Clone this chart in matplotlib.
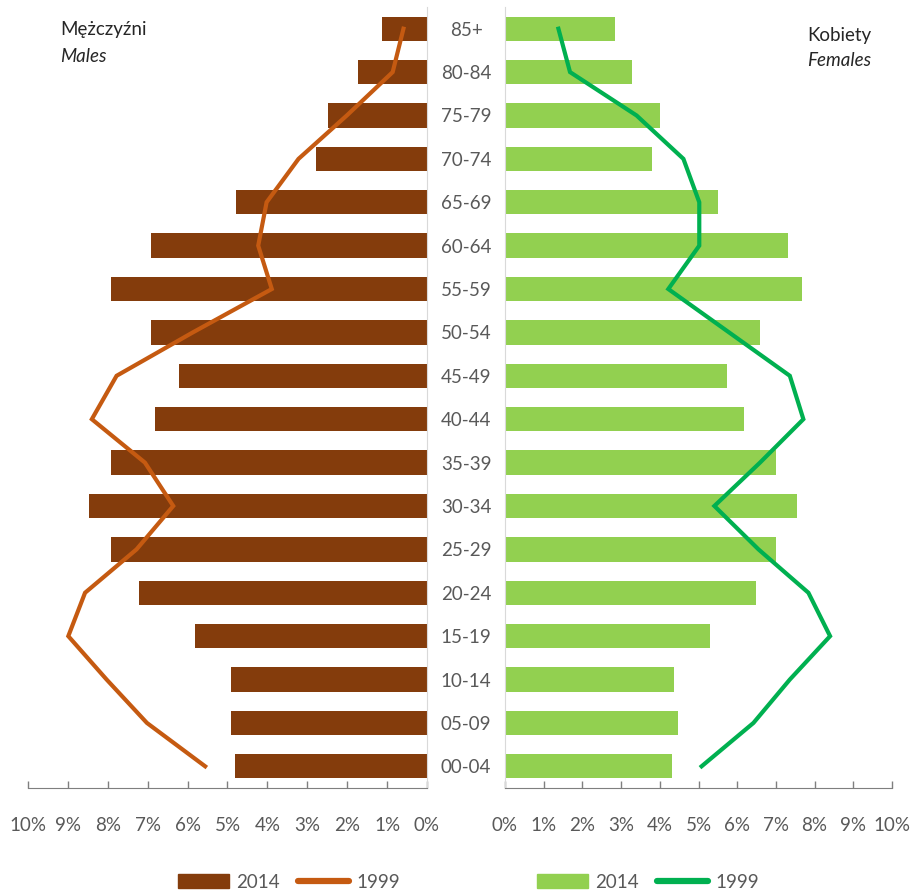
import numpy as np
import matplotlib
matplotlib.use("Agg")
import matplotlib.pyplot as plt
from matplotlib.patches import Patch
from matplotlib.lines import Line2D

plt.rcParams['font.family'] = ['Lato', 'DejaVu Sans']

# age groups, bottom to top
ages = ["00-04", "05-09", "10-14", "15-19", "20-24", "25-29", "30-34", "35-39", "40-44",
        "45-49", "50-54", "55-59", "60-64", "65-69", "70-74", "75-79", "80-84", "85+"]

# share of population (%)
males_2014 = [4.80, 4.90, 4.90, 5.81, 7.21, 7.91, 8.46, 7.91, 6.81,
              6.21, 6.91, 7.91, 6.91, 4.79, 2.79, 2.49, 1.74, 1.13]
males_1999 = [5.56, 7.02, 8.03, 8.99, 8.57, 7.28, 6.36, 7.07, 8.40,
              7.78, 5.87, 3.89, 4.23, 4.02, 3.22, 2.01, 0.86, 0.59]
females_2014 = [4.32, 4.48, 4.37, 5.31, 6.49, 7.01, 7.54, 7.01, 6.18,
                5.73, 6.60, 7.68, 7.32, 5.51, 3.81, 4.00, 3.29, 2.83]
females_1999 = [5.08, 6.42, 7.36, 8.40, 7.84, 6.55, 5.41, 6.59, 7.71,
                7.36, 5.79, 4.22, 5.02, 5.02, 4.61, 3.40, 1.68, 1.38]

ticks = list(range(0, 11))
tick_labels = [f"{t}%" for t in ticks]

male_bar = "#843C0C"
male_line = "#C55A11"
fem_bar = "#92D050"
fem_line = "#00B050"
txt = "#595959"
fs = 13.5

W, H = 914, 893
fig = plt.figure(figsize=(W / 100, H / 100), dpi=100)

y = np.arange(len(ages))
bottom_px, top_px = 788, 7
ax_m = fig.add_axes([28 / W, 1 - bottom_px / H, (427 - 28) / W, (bottom_px - top_px) / H])
ax_f = fig.add_axes([505 / W, 1 - bottom_px / H, (892 - 505) / W, (bottom_px - top_px) / H])

# males
ax_m.barh(y, males_2014, height=0.56, color=male_bar, zorder=2)
ax_m.plot(males_1999, y, color=male_line, lw=3, zorder=3, solid_joinstyle='miter')
ax_m.set_xlim(10, 0)

# females
ax_f.barh(y, females_2014, height=0.56, color=fem_bar, zorder=2)
ax_f.plot(females_1999, y, color=fem_line, lw=3, zorder=3, solid_joinstyle='miter')
ax_f.set_xlim(0, 10)

for ax in (ax_m, ax_f):
    ax.set_ylim(-0.5, len(ages) - 0.5)
    ax.set_xticks(ticks, tick_labels)
    ax.tick_params(axis='x', direction='in', length=5, width=1, color="#7F7F7F",
                   labelsize=fs, labelcolor=txt, pad=21)
    for s in ax.spines.values():
        s.set_visible(False)
    ax.spines['bottom'].set_visible(True)
    ax.spines['bottom'].set_color("#7F7F7F")

ax_m.spines['right'].set_visible(True)
ax_m.spines['right'].set_color("#D9D9D9")
ax_m.set_yticks([])

ax_f.spines['left'].set_visible(True)
ax_f.spines['left'].set_color("#D9D9D9")
ax_f.set_yticks(y, ages)
ax_f.tick_params(axis='y', length=0, pad=28, labelsize=fs, labelcolor=txt)
for lab in ax_f.get_yticklabels():
    lab.set_horizontalalignment('center')

# titles
fig.text(60 / W, 1 - 30 / H, "Mężczyźni", fontsize=fs, color="#262626", va='center')
fig.text(60 / W, 1 - 56 / H, "Males", fontsize=fs, style='italic', color="#262626", va='center')
fig.text(807 / W, 1 - 35 / H, "Kobiety", fontsize=fs, color="#262626", va='center')
fig.text(807 / W, 1 - 60 / H, "Females", fontsize=fs, style='italic', color="#262626", va='center')

# legends
h_m = [Patch(color=male_bar), Line2D([], [], color=male_line, lw=4.5, solid_capstyle='round')]
h_f = [Patch(color=fem_bar), Line2D([], [], color=fem_line, lw=4.5, solid_capstyle='round')]
for handles, xc in ((h_m, 289), (h_f, 648)):
    fig.legend(handles, ["2014", "1999"], loc='center', bbox_to_anchor=(xc / W, 1 - 882 / H),
               ncol=2, frameon=False, fontsize=fs, handlelength=2.7, handleheight=0.8,
               columnspacing=1.0, handletextpad=0.4, labelcolor=txt)

fig.savefig("out.png", dpi=100)
